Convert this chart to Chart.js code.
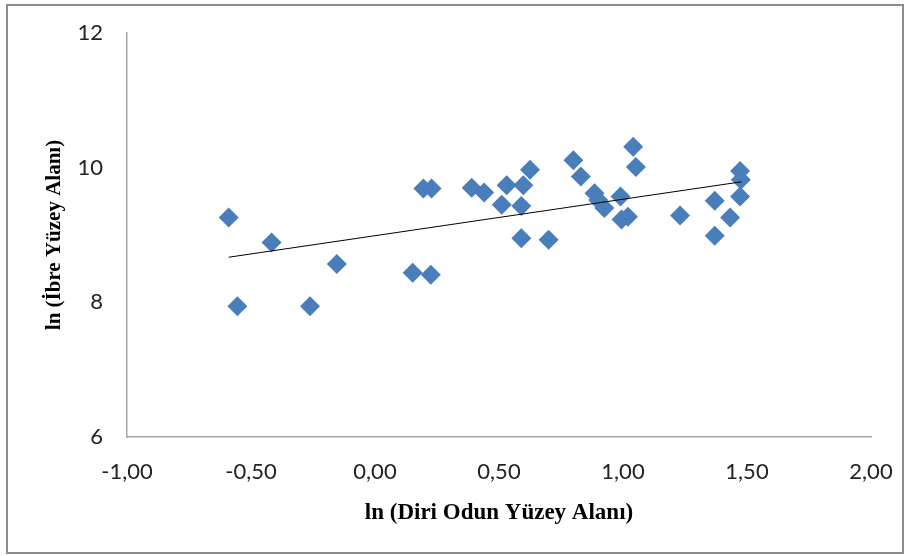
<!DOCTYPE html>
<html lang="tr">
<head>
<meta charset="utf-8">
<title>ln (İbre Yüzey Alanı) - ln (Diri Odun Yüzey Alanı)</title>
<script src="https://cdn.jsdelivr.net/npm/chart.js@4.4.1/dist/chart.umd.min.js"></script>
<style>
    html, body { margin: 0; padding: 0; background: #fff; }
    #wrap { position: relative; width: 909px; height: 556px; }
</style>
</head>
<body>
<div id="wrap"><canvas id="chart" width="909" height="556"></canvas></div>
<script>
// ln values of sapwood area (x) and needle area (y) for each tree
const lnDiriOdun = [
    -0.59, -0.555, -0.417, -0.262, -0.154, 0.152, 0.225, 0.195, 0.228, 0.39,
    0.44, 0.531, 0.511, 0.625, 0.598, 0.59, 0.59, 0.70, 0.80, 0.83,
    0.885, 0.925, 0.90, 0.99, 0.994, 1.02, 1.041, 1.052, 1.23, 1.37,
    1.37, 1.432, 1.472, 1.475, 1.472
];
const lnIbre = [
    9.26, 7.94, 8.89, 7.94, 8.57, 8.44, 8.41, 9.69, 9.69, 9.70,
    9.63, 9.74, 9.45, 9.97, 9.74, 9.43, 8.95, 8.93, 10.11, 9.87,
    9.62, 9.40, 9.52, 9.57, 9.23, 9.27, 10.31, 10.01, 9.29, 9.51,
    8.99, 9.26, 9.95, 9.82, 9.57
];

// linear trend line end points
const trendX = [-0.59, 1.478];
const trendY = [8.67, 9.79];

// axis ranges and labels
const xMin = -1, xMax = 2, xStep = 0.5;
const yMin = 6, yMax = 12, yStep = 2;

const points = lnDiriOdun.map((x, i) => ({ x: x, y: lnIbre[i] }));
const trend = trendX.map((x, i) => ({ x: x, y: trendY[i] }));

// gray frame round the whole chart
const frame = {
    id: 'frame',
    afterDraw(chart) {
        const ctx = chart.ctx;
        ctx.save();
        ctx.strokeStyle = '#8c8c8c';
        ctx.lineWidth = 2;
        ctx.strokeRect(7, 5, 896, 548);
        ctx.restore();
    }
};

const ctx = document.getElementById('chart').getContext('2d');
new Chart(ctx, {
    type: 'scatter',
    data: {
        datasets: [
            {
                label: 'Ağaçlar',
                data: points,
                pointStyle: 'rectRot',
                pointRadius: 10,
                pointHoverRadius: 10,
                backgroundColor: '#4a7ebb',
                borderColor: '#4a7ebb',
                borderWidth: 0,
                order: 2
            },
            {
                label: 'Doğrusal',
                type: 'line',
                data: trend,
                borderColor: '#000',
                borderWidth: 1,
                pointRadius: 0,
                fill: false,
                order: 1
            }
        ]
    },
    options: {
        responsive: false,
        animation: false,
        events: [],
        layout: { padding: { left: 28, right: 38, top: 33, bottom: 29 } },
        plugins: {
            legend: { display: false },
            tooltip: { enabled: false }
        },
        scales: {
            x: {
                type: 'linear',
                min: xMin,
                max: xMax,
                grid: { display: false, drawTicks: false },
                border: { display: true, color: '#a6a6a6', width: 1.5 },
                ticks: {
                    stepSize: xStep,
                    padding: 22,
                    color: '#222',
                    font: { family: 'Lato', size: 22 },
                    callback: v => v.toFixed(2).replace('.', ',')
                },
                title: {
                    display: true,
                    text: 'ln (Diri Odun Yüzey Alanı)',
                    color: '#000',
                    font: { family: '"Liberation Serif", "Times New Roman", serif', size: 23, weight: 'bold' },
                    padding: { top: 10, bottom: 0 }
                },
                afterFit(scale) {
                    scale.height = 90;
                    scale.paddingLeft = 0;
                    scale.paddingRight = 0;
                }
            },
            y: {
                type: 'linear',
                min: yMin,
                max: yMax,
                grid: { display: false, drawTicks: false },
                border: { display: true, color: '#a6a6a6', width: 1.5 },
                ticks: {
                    stepSize: yStep,
                    padding: 24,
                    color: '#222',
                    font: { family: 'Lato', size: 22 }
                },
                title: {
                    display: true,
                    text: 'ln (İbre Yüzey Alanı)',
                    color: '#000',
                    font: { family: '"Liberation Serif", "Times New Roman", serif', size: 21, weight: 'bold' },
                    padding: { top: 14, bottom: 0 }
                },
                afterFit(scale) {
                    scale.width = 99;
                    scale.paddingTop = 0;
                    scale.paddingBottom = 0;
                }
            }
        }
    },
    plugins: [frame]
});
</script>
</body>
</html>
